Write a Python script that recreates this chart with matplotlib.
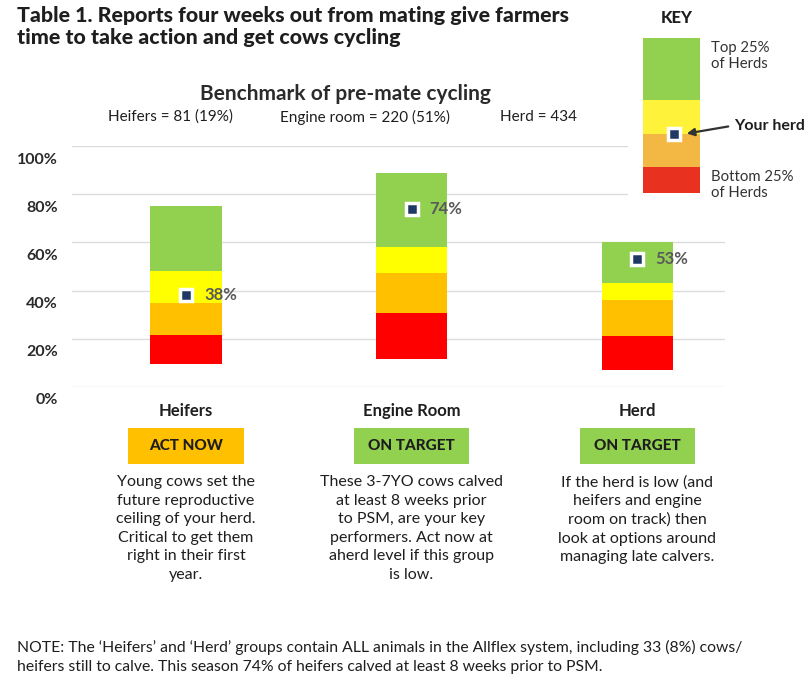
import matplotlib
matplotlib.use("Agg")
import matplotlib.pyplot as plt
import matplotlib.transforms as mtransforms
from matplotlib.patches import Rectangle, FancyArrowPatch

plt.rcParams["font.family"] = ["Lato", "DejaVu Sans"]

W, H, DPI = 808, 688, 100

# pre-mate cycling benchmark bands (% cycling)
categories = ["Heifers", "Engine Room", "Herd"]
band_base = [9.5, 11.5, 7.0]
band_red_top = [21.5, 30.5, 21.0]
band_orange_top = [35.0, 47.5, 36.0]
band_yellow_top = [48.0, 58.0, 43.0]
band_green_top = [75.0, 89.0, 60.0]
your_herd = [38, 74, 53]

counts = ["Heifers = 81 (19%)", "Engine room = 220 (51%)", "Herd = 434"]
status = ["ACT NOW", "ON TARGET", "ON TARGET"]
notes = [
    "Young cows set the\nfuture reproductive\nceiling of your herd.\nCritical to get them\nright in their first\nyear.",
    "These 3-7YO cows calved\nat least 8 weeks prior\nto PSM, are your key\nperformers. Act now at\naherd level if this group\nis low.",
    "If the herd is low (and\nheifers and engine\nroom on track) then\nlook at options around\nmanaging late calvers.",
]
yticks = [0, 20, 40, 60, 80, 100]
key_bands = [0.0, 0.17, 0.38, 0.60, 1.0]  # bottom -> top of the key column

RED, ORANGE, YELLOW, GREEN = "#ff0000", "#ffc000", "#ffff00", "#92d050"
NAVY = "#1f3864"
INK = "#1e1e1e"


def px(x, y):
    """pixel (from top-left) -> figure fraction"""
    return x / W, 1 - y / H


fig = plt.figure(figsize=(W / DPI, H / DPI), dpi=DPI)
fig.patch.set_facecolor("white")

# main benchmark axes: 0% at y=387px, 100% at y=146px
ax = fig.add_axes([72 / W, 1 - 387 / H, 653 / W, 241 / H])
ax.set_xlim(-0.5055, 2.390)
ax.set_ylim(0, 100)
for s in ax.spines.values():
    s.set_visible(False)
ax.set_yticks(yticks)
ax.set_yticklabels([f"{t}%" for t in yticks], fontsize=11.5, fontweight="bold", color="#2a2a2a")
ax.tick_params(axis="y", length=0, pad=10)
ax.set_xticks([])
ax.grid(axis="y", color="#dcdcdc", lw=1.0)
ax.set_axisbelow(True)
shift = mtransforms.ScaledTranslation(0, -12 / DPI, fig.dpi_scale_trans)
for lbl in ax.get_yticklabels():
    lbl.set_transform(lbl.get_transform() + shift)

x = list(range(len(categories)))
bw = 0.315
edges = [band_base, band_red_top, band_orange_top, band_yellow_top, band_green_top]
for lo, hi, col in zip(edges[:-1], edges[1:], [RED, ORANGE, YELLOW, GREEN]):
    ax.bar(x, [h - l for l, h in zip(lo, hi)], bottom=lo, width=bw, color=col,
           edgecolor="none", zorder=2)

ax.plot(x, your_herd, ls="none", marker="s", ms=9, mfc=NAVY, mec="white", mew=2.5, zorder=4)
for xi, v in zip(x, your_herd):
    ax.annotate(f"{v}%", (xi, v), xytext=(13, 0), textcoords="offset points",
                va="center", ha="left", fontsize=12, fontweight="bold", color="#5a5a5a", zorder=5)

# group labels, status boxes and notes under each bar
lab = mtransforms.blended_transform_factory(ax.transData, fig.transFigure)
box_w = 115 / 225.5
for xi, name, st, note in zip(x, categories, status, notes):
    ax.text(xi, 1 - 411 / H, name, transform=lab, ha="center", va="center",
            fontsize=12, fontweight="bold", color=INK)
    ax.add_patch(Rectangle((xi - box_w / 2, 1 - 464 / H), box_w, 36 / H, transform=lab,
                           fc=ORANGE if st == "ACT NOW" else GREEN, ec="none", clip_on=False))
    ax.text(xi, 1 - 446 / H, st, transform=lab, ha="center", va="center",
            fontsize=11, fontweight="black", color=INK)
    ax.text(xi, 1 - 475 / H, note, transform=lab, ha="center", va="top",
            fontsize=11.5, color=INK, linespacing=1.42)

# title and headings
fig.text(*px(17, 6), "Table 1. Reports four weeks out from mating give farmers\n"
         "time to take action and get cows cycling", ha="left", va="top",
         fontsize=15.4, fontweight="black", color=INK, linespacing=1.2)
fig.text(*px(345, 94), "Benchmark of pre-mate cycling", ha="center", va="center",
         fontsize=15, fontweight="bold", color="#2b2b2b")
for cx, txt in zip([170, 365, 538], counts):
    fig.text(*px(cx, 117), txt, ha="center", va="center", fontsize=11, color=INK)

fig.text(*px(17, 647), "NOTE: The \u2018Heifers\u2019 and \u2018Herd\u2019 groups contain ALL animals in the "
         "Allflex system, including 33 (8%) cows/", ha="left", va="center", fontsize=11.3, color=INK)
fig.text(*px(17, 667), "heifers still to calve. This season 74% of heifers calved at least "
         "8 weeks prior to PSM.", ha="left", va="center", fontsize=11.3, color=INK)

# key panel, drawn over the top-right corner of the grid
kx = fig.add_axes([628 / W, 1 - 205 / H, 180 / W, 205 / H])
kx.set_xlim(628, 808)
kx.set_ylim(205, 0)
kx.axis("off")
kx.add_patch(Rectangle((628, 0), 180, 205, fc="white", ec="none"))
top, bot = 38, 193
key_cols = ["#e8311f", "#f2b843", "#fff23a", "#92d050"]
for lo, hi, col in zip(key_bands[:-1], key_bands[1:], key_cols):
    y0 = bot - lo * (bot - top)
    y1 = bot - hi * (bot - top)
    kx.add_patch(Rectangle((643, y1), 57, y0 - y1, fc=col, ec="none"))
kx.text(677, 18, "KEY", ha="center", va="center", fontsize=12, fontweight="black", color=INK)
kx.text(711, 56, "Top 25%\nof Herds", ha="left", va="center", fontsize=10.7, color="#333333",
        linespacing=1.2)
kx.text(711, 185, "Bottom 25%\nof Herds", ha="left", va="center", fontsize=10.7, color="#333333",
        linespacing=1.2)
kx.plot([674], [134], ls="none", marker="s", ms=9, mfc=NAVY, mec="white", mew=2.5)
kx.add_patch(FancyArrowPatch((731, 126), (684, 134), arrowstyle="-|>", mutation_scale=11,
                             lw=1.6, color="#333333"))
kx.text(734, 126, "Your herd", ha="left", va="center", fontsize=11.5, fontweight="bold", color=INK,
        clip_on=False)

fig.savefig("out.png", dpi=DPI, facecolor="white")
